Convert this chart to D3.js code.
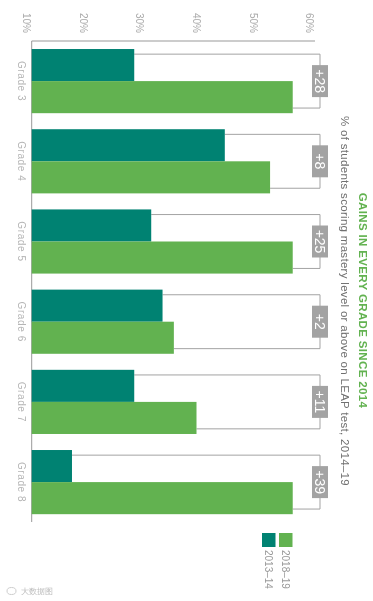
<!DOCTYPE html>
<html><head><meta charset="utf-8">
<script src="https://cdn.jsdelivr.net/npm/d3@7"></script>
<style>html,body{margin:0;padding:0;background:#fff}svg{display:block;filter:blur(0.35px)}text{font-family:"Liberation Sans",Arial,sans-serif}</style>
</head><body><svg id="c" width="373" height="601"></svg>
<script>
const grades=["Grade 3","Grade 4","Grade 5","Grade 6","Grade 7","Grade 8"];
const v2014=[29,45,32,34,29,18];
const v2019=[57,53,57,36,40,57];
const gains=["+28","+8","+25","+2","+11","+39"];
const xTicks=[10,20,30,40,50,60];
const legendLabels=["2018–19","2013–14"];
const title="GAINS IN EVERY GRADE SINCE 2014";
const subtitle="% of students scoring mastery level or above on LEAP test, 2014–19";
const watermark="大数据图";
const teal="#008272",green="#62b250",grey="#a3a3a3";

const svg=d3.select("#c");
const x=d3.scaleLinear().domain([10,60]).range([26.7,309.7]);
const y=d3.scaleBand().domain(grades).range([41,522.2]).paddingInner(0.2).paddingOuter(0.1);
const x0=31.7;
const bw=y.bandwidth()/2;
const rot=(t,px,py,a="middle")=>t.attr("transform",`translate(${px},${py}) rotate(90)`).attr("text-anchor",a).attr("dominant-baseline","central");

// axes
svg.append("line").attr("x1",x0).attr("x2",315).attr("y1",41).attr("y2",41).attr("stroke","#999").attr("stroke-width",1);
svg.append("line").attr("x1",x0).attr("x2",x0).attr("y1",41).attr("y2",522).attr("stroke","#999").attr("stroke-width",1);
xTicks.forEach(t=>rot(svg.append("text").text(t+"%"),x(t),23,"middle").attr("font-size",10).attr("fill","#aaa"));

// brackets
grades.forEach((g,i)=>{
  const t=y(g),a=t+bw*0.16,b=t+bw*1.84;
  svg.append("path").attr("fill","none").attr("stroke",grey).attr("stroke-width",1)
    .attr("d",d3.line()([[x(v2014[i]),a],[320,a],[320,b],[x(v2019[i]),b]]));
});
// bars
grades.forEach((g,i)=>{
  svg.append("rect").attr("x",x0).attr("y",y(g)).attr("width",x(v2014[i])-x0).attr("height",bw).attr("fill",teal);
  svg.append("rect").attr("x",x0).attr("y",y(g)+bw).attr("width",x(v2019[i])-x0).attr("height",bw).attr("fill",green);
  rot(svg.append("text").text(g),21.5,y(g)+bw,"middle").attr("font-size",10).attr("fill","#b5b5b5").attr("letter-spacing",0.6);
  svg.append("rect").attr("x",312).attr("y",y(g)+bw-16).attr("width",16).attr("height",32).attr("fill",grey);
  rot(svg.append("text").text(gains[i]),320,y(g)+bw,"middle").attr("font-size",14).attr("fill","#fff");
});
// titles
rot(svg.append("text").text(title),363,300.5,"middle").attr("font-size",11.5).attr("font-weight","bold").attr("fill",green).attr("letter-spacing",0.35);
rot(svg.append("text").text(subtitle),345,301,"middle").attr("font-size",11.5).attr("fill","#707070").attr("letter-spacing",0.3);
// legend
[green,teal].forEach((c,i)=>{
  const lx=[279,262][i];
  svg.append("rect").attr("x",lx).attr("y",533).attr("width",13.5).attr("height",14).attr("fill",c);
  rot(svg.append("text").text(legendLabels[i]),lx+6.5,550,"start").attr("font-size",10).attr("fill","#999");
});
// watermark
svg.append("ellipse").attr("cx",11.5).attr("cy",591).attr("rx",4.5).attr("ry",3.5).attr("fill","none").attr("stroke","#ccc").attr("stroke-width",1);
svg.append("text").text(watermark).attr("x",21).attr("y",594).attr("font-family","Noto Sans CJK SC").attr("font-size",7.5).attr("fill","#bbb");
</script></body></html>
